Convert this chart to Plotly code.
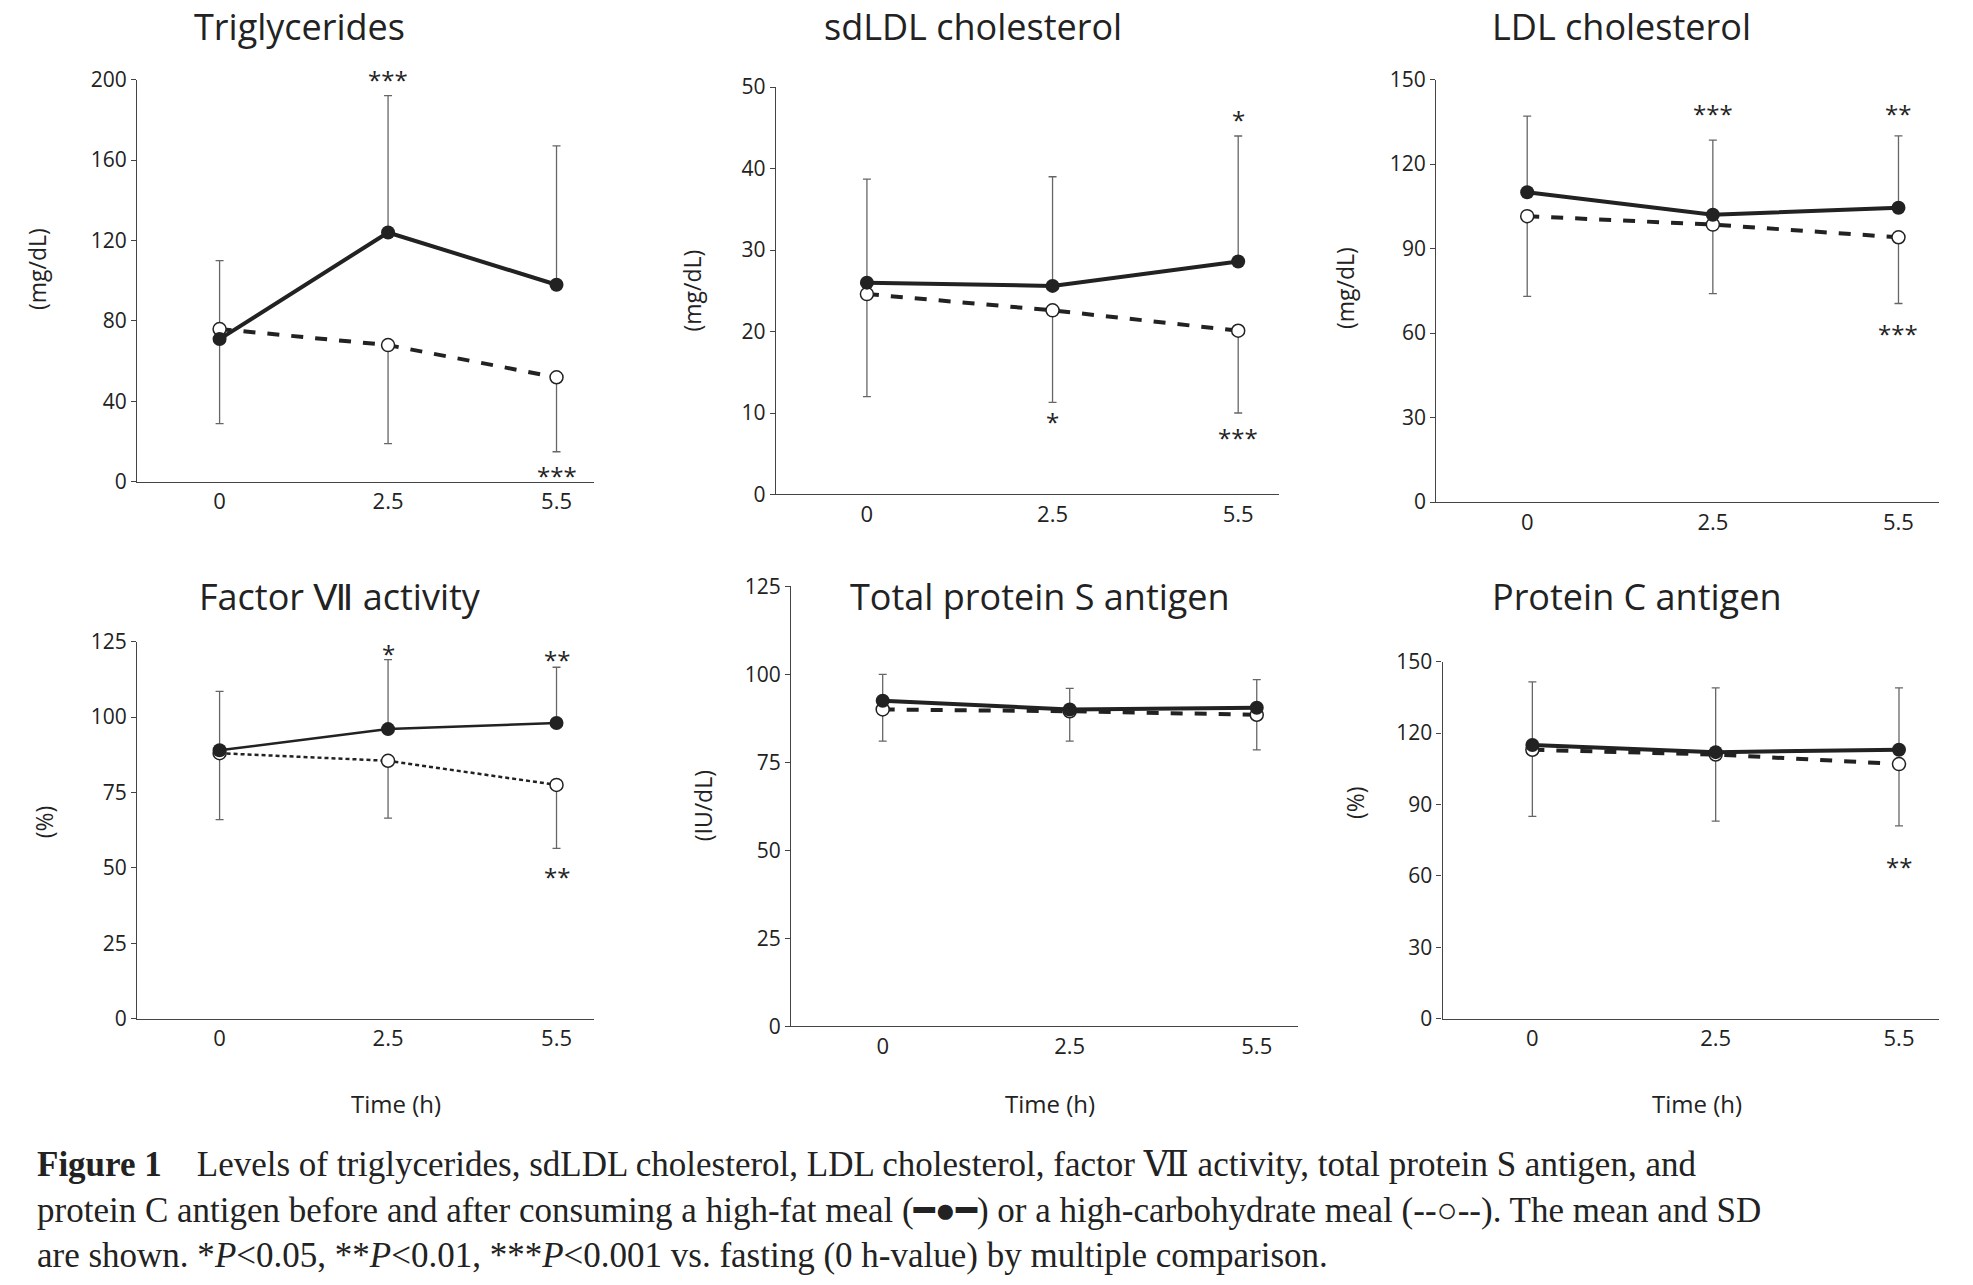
import plotly.graph_objects as go

W, H = 1973, 1285
S = 1973/1560.0
def fx(px): return ((px - 4.4) / 1.0056) * S / W
def fy(py): return 1 - ((py - 17) / 0.984) * S / H

times = ["0", "2.5", "5.5"]
titles = ["Triglycerides", "sdLDL cholesterol", "LDL cholesterol",
          "Factor Ⅶ activity", "Total protein S antigen", "Protein C antigen"]
ylabels = ["(mg/dL)", "(mg/dL)", "(mg/dL)", "(%)", "(IU/dL)", "(%)"]
hf_mean = [[71, 124, 98], [26, 25.6, 28.6], [110, 102, 104.5], [89, 96, 98], [92.5, 90, 90.5], [115, 112, 113]]
hf_upper = [[110, 192, 167], [38.7, 39, 44], [137, 128.5, 130], [108.5, 119, 116.5], [100, 96, 98.5], [141.5, 139, 139]]
hc_mean = [[76, 68, 52], [24.6, 22.6, 20.1], [101.5, 98.5, 94], [88, 85.5, 77.5], [90, 89.5, 88.5], [113, 111, 107]]
hc_lower = [[29, 19, 15], [12, 11.3, 10], [73, 74, 70.5], [66, 66.5, 56.5], [81, 81, 78.5], [85, 83, 81]]
ymax = [200, 50, 150, 125, 125, 150]
dticks = [40, 10, 30, 25, 25, 30]
stars = [(0, 1, 200, "***"), (0, 2, 3, "***"),
         (1, 1, 9, "*"), (1, 2, 46, "*"), (1, 2, 7, "***"),
         (2, 1, 138, "***"), (2, 2, 138, "**"), (2, 2, 60, "***"),
         (3, 1, 121, "*"), (3, 2, 119, "**"), (3, 2, 47, "**"),
         (5, 2, 64, "**")]

boxes = [(107, 470, 62, 382), (615, 1015, 68, 392), (1140, 1540, 62, 398),
         (107, 470, 509, 809), (627, 1030, 465, 815), (1145, 1540, 525, 809)]
title_pos = [(236, 20), (772, 20), (1287, 20), (268, 473), (825, 473), (1299, 473)]
ylab_pos = [(28, 213), (548, 230), (1068, 228), (33, 652), (557, 640), (1075, 637)]
time_pos = [(313, 876), (833, 876), (1347, 876)]

fig = go.Figure()
ann = []
font = "Open Sans, Noto Sans, sans-serif"
for i in range(6):
    x0, x1, yt, yb = boxes[i]
    n = i + 1
    xa = "x" if n == 1 else f"x{n}"
    ya = "y" if n == 1 else f"y{n}"
    thin = (i == 3)
    fig.add_trace(go.Scatter(x=[0, 1, 2], y=hf_mean[i], xaxis=xa, yaxis=ya, mode="lines",
        line=dict(color="#777", width=0), showlegend=False,
        error_y=dict(type="data", symmetric=False,
                     array=[u - m for u, m in zip(hf_upper[i], hf_mean[i])],
                     arrayminus=[0, 0, 0], color="#666", thickness=1.3, width=4)))
    fig.add_trace(go.Scatter(x=[0, 1, 2], y=hc_mean[i], xaxis=xa, yaxis=ya, mode="lines",
        line=dict(color="#777", width=0), showlegend=False,
        error_y=dict(type="data", symmetric=False, array=[0, 0, 0],
                     arrayminus=[m - l for l, m in zip(hc_lower[i], hc_mean[i])],
                     color="#666", thickness=1.3, width=4)))
    fig.add_trace(go.Scatter(x=[0, 1, 2], y=hc_mean[i], xaxis=xa, yaxis=ya, mode="lines+markers",
        line=dict(color="#222", width=2.5 if thin else 4, dash="dash" if not thin else "4px,3px"),
        marker=dict(size=13, color="white", line=dict(color="#222", width=1.5)), showlegend=False))
    fig.add_trace(go.Scatter(x=[0, 1, 2], y=hf_mean[i], xaxis=xa, yaxis=ya, mode="lines+markers",
        line=dict(color="#222", width=2.5 if thin else 4),
        marker=dict(size=14, color="#222"), showlegend=False))
    axx = dict(domain=[fx(x0), fx(x1)], anchor=ya, range=[-0.49, 2.22],
               tickvals=[0, 1, 2], ticktext=times, showline=True, linecolor="#444",
               linewidth=1.3, ticks="", showgrid=False, zeroline=False,
               tickfont=dict(size=22, family=font, color="#222"))
    axy = dict(domain=[fy(yb), fy(yt)], anchor=xa, range=[0, ymax[i]], dtick=dticks[i],
               showline=True, linecolor="#444", linewidth=1.3, ticks="outside", ticklen=5,
               tickcolor="#444", showgrid=False, zeroline=False,
               tickfont=dict(size=21, family=font, color="#222"))
    fig.update_layout(**{("xaxis" if n == 1 else f"xaxis{n}"): axx,
                         ("yaxis" if n == 1 else f"yaxis{n}"): axy})
    tx, ty = title_pos[i]
    ann.append(dict(text=titles[i], xref="paper", yref="paper", x=fx(tx), y=fy(ty),
                    xanchor="center", yanchor="middle", showarrow=False,
                    font=dict(size=36, family=font, color="#222")))
    lx, ly = ylab_pos[i]
    ann.append(dict(text=ylabels[i], xref="paper", yref="paper", x=fx(lx), y=fy(ly),
                    xanchor="center", yanchor="middle", textangle=-90, showarrow=False,
                    font=dict(size=23, family=font, color="#222")))
for (tx, ty) in time_pos:
    ann.append(dict(text="Time (h)", xref="paper", yref="paper", x=fx(tx), y=fy(ty),
                    xanchor="center", yanchor="middle", showarrow=False,
                    font=dict(size=24, family=font, color="#222")))
for (p, xi, yv, t) in stars:
    n = p + 1
    ann.append(dict(text=t, x=xi, y=yv, xref="x" if n == 1 else f"x{n}", yref="y" if n == 1 else f"y{n}",
                    showarrow=False, font=dict(size=24, family=font, color="#222")))

serif = "Liberation Serif, DejaVu Serif, serif"
cap = ("<b>Figure 1</b>    Levels of triglycerides, sdLDL cholesterol, LDL cholesterol, factor Ⅶ activity, total protein S antigen, and<br>"
       "protein C antigen before and after consuming a high-fat meal (━●━) or a high-carbohydrate meal (--○--). The mean and SD<br>"
       "are shown. *<i>P</i>&lt;0.05, **<i>P</i>&lt;0.01, ***<i>P</i>&lt;0.001 vs. fasting (0 h-value) by multiple comparison.")
ann.append(dict(text=cap, xref="paper", yref="paper", x=fx(26), y=fy(908), xanchor="left", yanchor="top",
                align="left", showarrow=False, font=dict(size=35, family=serif, color="#222")))
fig.update_layout(width=W, height=H, margin=dict(l=0, r=0, t=0, b=0), paper_bgcolor="white",
                  plot_bgcolor="white", annotations=ann)
fig.write_html("out.html")
